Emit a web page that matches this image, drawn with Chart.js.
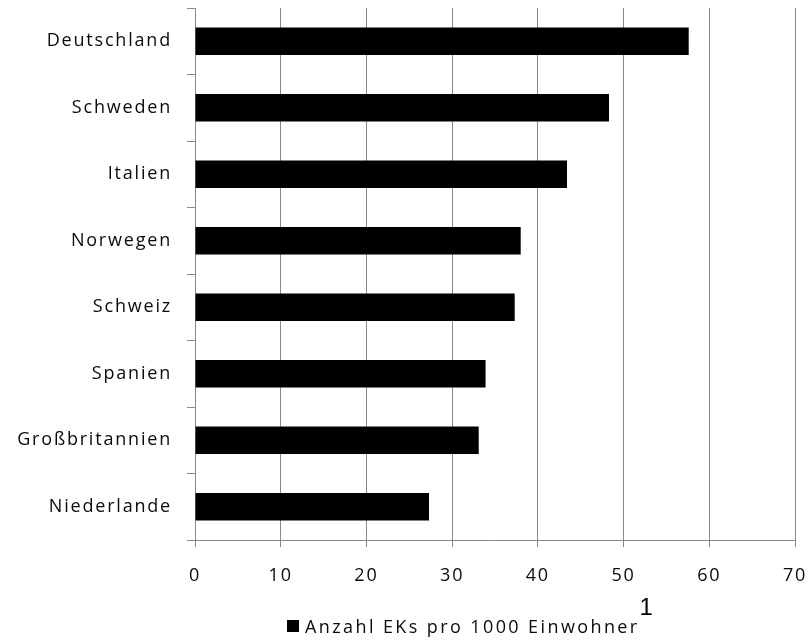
<!DOCTYPE html>
<html>
<head>
<meta charset="utf-8">
<script src="https://cdn.jsdelivr.net/npm/chart.js@4"></script>
<style>
  html, body { margin: 0; padding: 0; background: #fff; }
  canvas { display: block; }
</style>
</head>
<body>
<canvas id="c" width="812" height="641"></canvas>
<script>
const categories = ['Deutschland', 'Schweden', 'Italien', 'Norwegen', 'Schweiz', 'Spanien', 'Großbritannien', 'Niederlande'];
const values = [57.6, 48.3, 43.4, 38.0, 37.3, 33.9, 33.1, 27.3];
const seriesLabel = 'Anzahl EKs pro 1000 Einwohner';
const footnoteMark = '1';

const FONT = '"Open Sans", "DejaVu Sans", sans-serif';
const GRID = '#888888';
const TEXT = '#0a0a0a';
const SPACING = '1.8px';

// Wider tracking for all canvas text, set again after any context reset
const tracking = {
  id: 'tracking',
  beforeLayout(chart) { chart.ctx.letterSpacing = SPACING; },
  beforeDraw(chart) { chart.ctx.letterSpacing = SPACING; }
};

// Legend row under the axis: swatch, series name and a footnote mark
const legendRow = {
  id: 'legendRow',
  afterDraw(chart) {
    const ctx = chart.ctx;
    const ds = chart.data.datasets[0];
    ctx.save();
    ctx.fillStyle = ds.backgroundColor;
    ctx.fillRect(287, 620, 12, 12);
    ctx.letterSpacing = '2.4px';
    ctx.font = '18px ' + FONT;
    ctx.fillStyle = TEXT;
    ctx.textAlign = 'left';
    ctx.textBaseline = 'alphabetic';
    ctx.fillText(ds.label, 305, 633);
    const w = ctx.measureText(ds.label).width;
    ctx.letterSpacing = '0px';
    ctx.font = '24px "Liberation Sans", Arial, sans-serif';
    ctx.fillStyle = '#000';
    ctx.fillText(footnoteMark, 305 + w, 615);
    ctx.restore();
  }
};

new Chart(document.getElementById('c'), {
  type: 'bar',
  data: {
    labels: categories,
    datasets: [{
      label: seriesLabel,
      data: values,
      backgroundColor: '#000000',
      borderWidth: 0,
      barPercentage: 0.41,
      categoryPercentage: 1.0
    }]
  },
  options: {
    indexAxis: 'y',
    responsive: false,
    animation: false,
    devicePixelRatio: 1,
    layout: { padding: { top: 8, right: 17, left: 0, bottom: 0 } },
    plugins: {
      legend: { display: false },
      tooltip: { enabled: false }
    },
    scales: {
      x: {
        min: 0,
        max: 70,
        ticks: {
          stepSize: 10,
          color: TEXT,
          font: { family: FONT, size: 18 },
          padding: 18,
          maxRotation: 0
        },
        grid: {
          color: GRID,
          lineWidth: 1,
          drawTicks: true,
          tickLength: 7,
          tickColor: GRID
        },
        border: { color: GRID, width: 1 },
        afterFit(scale) {
          scale.height = 101;
          scale.paddingLeft = 0;
          scale.paddingRight = 0;
        }
      },
      y: {
        ticks: {
          color: TEXT,
          font: { family: FONT, size: 18 },
          padding: 15
        },
        grid: {
          display: true,
          drawOnChartArea: false,
          drawTicks: true,
          tickLength: 8,
          offset: true,
          color: GRID,
          tickColor: GRID
        },
        border: { color: GRID, width: 1 },
        afterFit(scale) {
          scale.width = 195;
          scale.paddingTop = 0;
          scale.paddingBottom = 0;
        }
      }
    }
  },
  plugins: [tracking, legendRow]
});
</script>
</body>
</html>
